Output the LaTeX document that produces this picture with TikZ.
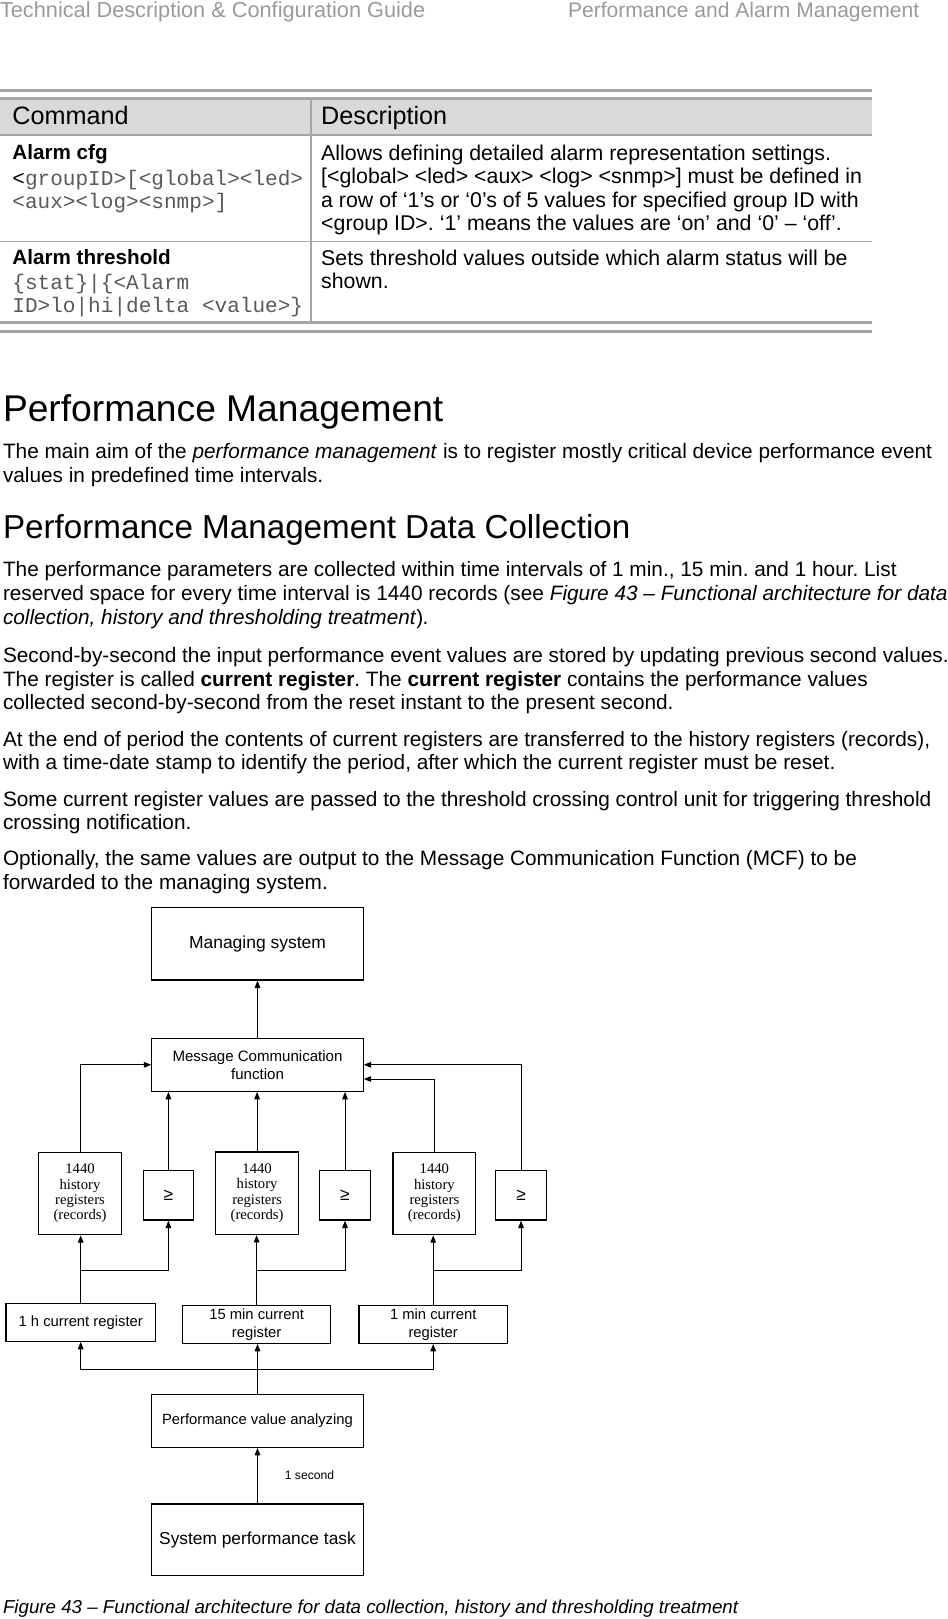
\documentclass[tikz,border=0pt]{standalone}
\usepackage{fontspec}
\setmainfont{Liberation Sans}
\newfontfamily\serifrm{Liberation Serif}
\newfontfamily\monott{Liberation Mono}
\usetikzlibrary{arrows.meta}
\definecolor{rulegray}{HTML}{A6A6A6}
\definecolor{headfill}{HTML}{D9D9D9}
\definecolor{hdrgray}{HTML}{9A9A9A}
\begin{document}
\frenchspacing
\begin{tikzpicture}[x=0.75pt,y=-0.75pt,
  txt/.style={anchor=mid west,inner sep=0pt,outer sep=0pt,yshift=-3pt},
  hdr/.style={txt,text=hdrgray,font=\fontsize{16.3}{18}\selectfont},
  body/.style={txt,font=\fontsize{15.6}{18}\selectfont},
  hone/.style={txt,yshift=-3.2pt,font=\fontsize{27.9}{32}\selectfont},
  htwo/.style={txt,yshift=-2.4pt,font=\fontsize{24.9}{29}\selectfont},
  thead/.style={txt,font=\fontsize{18.9}{22}\selectfont},
  tdesc/.style={txt,font=\fontsize{16}{18}\selectfont},
  tcmd/.style={txt,font=\bfseries\fontsize{15.5}{18}\selectfont},
  tmono/.style={txt,text=black!65,font=\monott\fontsize{15.8}{18}\selectfont},
  capt/.style={txt,font=\itshape\fontsize{14.05}{16}\selectfont},
  box/.style={draw,line width=0.95pt,inner sep=0pt,align=center},
  arr/.style={line width=0.75pt,-{Triangle[length=5.5pt,width=4.2pt]}},
  regfont/.style={font=\fontsize{11.1}{13}\selectfont},
  histfont/.style={font=\serifrm\fontsize{11}{11.5}\selectfont},
  gefont/.style={font=\fontsize{13}{15}\selectfont},
]
\useasboundingbox (0,0) rectangle (947,1619);
\fill[white] (0,0) rectangle (947,1619);

% running header
\node[hdr] (hl) at (0,10) {Technical Description \& Configuration Guide};
\node[hdr,font=\fontsize{15.8}{18}\selectfont] (hr) at (568,10) {Performance and Alarm Management};

% table
\fill[headfill] (0,98.5) rectangle (872,135.5);
\draw[rulegray,line width=2.2pt] (0,90.5) -- (872,90.5);
\draw[rulegray,line width=1.6pt] (0,98.5) -- (872,98.5);
\draw[rulegray,line width=1.5pt] (0,135.5) -- (872,135.5);
\draw[rulegray,line width=1.1pt] (0,241.5) -- (872,241.5);
\draw[rulegray,line width=1.6pt] (0,322.5) -- (872,322.5);
\draw[rulegray,line width=2.2pt] (0,331.5) -- (872,331.5);
\draw[rulegray,line width=1.1pt] (311,98.5) -- (311,322.5);

\node[thead] (tc) at (12.4,117) {Command};
\node[thead] (td) at (321.2,117) {Description};

\node[tcmd] (c1) at (12.4,152) {Alarm cfg};
\node[tmono] (c1a) at (12.4,177.6) {\textcolor{black}{<}groupID>[<global><led>};
\node[tmono] (c1b) at (12.4,201.4) {<aux><log><snmp>]};
\node[tdesc] (d1a) at (321.2,152.8) {Allows defining detailed alarm representation settings.};
\node[tdesc] (d1b) at (321.2,176) {[<global> <led> <aux> <log> <snmp>] must be defined in};
\node[tdesc] (d1c) at (321.2,199.5) {a row of ‘1’s or ‘0’s of 5 values for specified group ID with};
\node[tdesc] (d1d) at (321.2,223) {<group ID>. ‘1’ means the values are ‘on’ and ‘0’ – ‘off’.};

\node[tcmd] (c2) at (12.4,257.1) {Alarm threshold};
\node[tmono] (c2a) at (12.4,281.9) {\{stat\}|\{<Alarm};
\node[tmono] (c2b) at (12.4,304.6) {ID>lo|hi|delta <value>\}};
\node[tdesc] (d2a) at (321.2,258.2) {Sets threshold values outside which alarm status will be};
\node[tdesc] (d2b) at (321.2,280.9) {shown.};

% headings and paragraphs
\node[hone] (h1) at (3,410) {Performance Management};
\node[body] (p1a) at (3,451.3) {The main aim of the \textit{performance management} is to register mostly critical device performance event};
\node[body] (p1b) at (3,475) {values in predefined time intervals.};
\node[htwo] (h2) at (3,527.7) {Performance Management Data Collection};
\node[body] (p2a) at (3,569) {The performance parameters are collected within time intervals of 1 min., 15 min. and 1 hour. List};
\node[body] (p2b) at (3,592.8) {reserved space for every time interval is 1440 records (see \textit{Figure 43 – Functional architecture for data}};
\node[body] (p2c) at (3,616.5) {\textit{collection, history and thresholding treatment})\kern-0.5pt.};
\node[body] (p3a) at (3,654.7) {Second-by-second the input performance event values are stored by updating previous second values.};
\node[body] (p3b) at (3,678.5) {The register is called \textbf{current register}. The \textbf{current register} contains the performance values};
\node[body] (p3c) at (3,702.2) {collected second-by-second from the reset instant to the present second.};
\node[body] (p4a) at (3,739.4) {At the end of period the contents of current registers are transferred to the history registers (records),};
\node[body] (p4b) at (3,762.1) {with a time-date stamp to identify the period, after which the current register must be reset.};
\node[body] (p5a) at (3,799.3) {Some current register values are passed to the threshold crossing control unit for triggering threshold};
\node[body] (p5b) at (3,822) {crossing notification.};
\node[body] (p6a) at (3,858.2) {Optionally, the same values are output to the Message Communication Function (MCF) to be};
\node[body] (p6b) at (3,881.9) {forwarded to the managing system.};

% diagram boxes
\node[box,minimum width=158.5pt,minimum height=54.2pt,font=\fontsize{13.1}{15}\selectfont] (ms) at (257.5,943.9) {Managing system};
\node[box,minimum width=158.5pt,minimum height=39.75pt,font=\fontsize{11.3}{13.5}\selectfont] (mcf) at (257.5,1064.8) {Message Communication\\function};

\node[box,histfont,minimum width=62.1pt,minimum height=61.8pt] (hA) at (80,1193.5) {1440\\history\\registers\\(records)};
\node[box,histfont,minimum width=62.1pt,minimum height=61.8pt] (hB) at (257.1,1193.3) {1440\\history\\registers\\(records)};
\node[box,histfont,minimum width=62.1pt,minimum height=61.8pt] (hC) at (434.4,1193.5) {1440\\history\\registers\\(records)};

\node[box,gefont,minimum width=37.8pt,minimum height=37pt] (gA) at (168.4,1195.4) {≥};
\node[box,gefont,minimum width=37.8pt,minimum height=37pt] (gB) at (345,1195.4) {≥};
\node[box,gefont,minimum width=37.8pt,minimum height=37pt] (gC) at (521,1195.4) {≥};

\node[box,regfont,minimum width=112pt,minimum height=28.2pt] (rA) at (80.7,1322.5) {1 h current register};
\node[box,regfont,minimum width=111.2pt,minimum height=28.2pt] (rB) at (256.6,1324.5) {15 min current\\register};
\node[box,regfont,minimum width=111.2pt,minimum height=28.2pt] (rC) at (433.2,1324.5) {1 min current\\register};

\node[box,regfont,minimum width=158.5pt,minimum height=39.5pt] (pva) at (257.5,1421) {Performance value analyzing};
\node[box,minimum width=158.5pt,minimum height=53.8pt,font=\fontsize{13}{15}\selectfont] (spt) at (257.5,1539.9) {System performance task};

\node[anchor=mid west,inner sep=0pt,font=\fontsize{9.1}{11}\selectfont] (sec) at (284.6,1475.7) {1 second};

% upper connectors
\draw[arr] (mcf.north) -- (ms.south);
\draw[arr] (hA.north) |- (mcf.west);
\draw[arr] (gA.north) -- (gA.north |- mcf.south);
\draw[arr] (hB.north) -- (hB.north |- mcf.south);
\draw[arr] (gB.north) -- (gB.north |- mcf.south);
\draw[arr] (hC.north) |- ([yshift=-10.65pt]mcf.east);
\draw[arr] (gC.north) |- (mcf.east);

% register to history / threshold
\coordinate (bA) at (80.7,1270);
\coordinate (bB) at (256.6,1270);
\coordinate (bC) at (433.2,1270);
\draw[arr] (rA.north) -- (rA.north |- hA.south);
\draw[arr] (rB.north) -- (rB.north |- hB.south);
\draw[arr] (rC.north) -- (rC.north |- hC.south);
\draw[arr] (bA) -| (gA.south);
\draw[arr] (bB) -| (gB.south);
\draw[arr] (bC) -| (gC.south);

% bus
\coordinate (bus) at (257.5,1369);
\draw[arr] (pva.north) -- (pva.north |- rB.south);
\draw[arr] (bus) -| (rA.south);
\draw[arr] (bus) -| (rC.south);
\draw[arr] (spt.north) -- (pva.south);

% caption
\node[capt] (cap) at (3,1606) {Figure 43 – Functional architecture for data collection, history and thresholding treatment};
\end{tikzpicture}
\end{document}
